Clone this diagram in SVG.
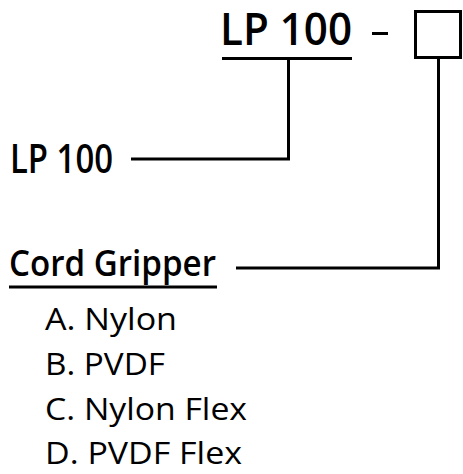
<svg xmlns="http://www.w3.org/2000/svg" width="463" height="474" viewBox="0 0 463 474">
<style>
.t{font-family:"Open Sans","Noto Sans",sans-serif;fill:#000}
.b{font-weight:600}
.ln{stroke:#000;stroke-width:3;fill:none}
</style>
<rect width="463" height="474" fill="#fff"/>
<g id="title">
<text class="t b" x="220" y="45" font-size="45" textLength="132" lengthAdjust="spacingAndGlyphs">LP 100</text>
<line class="ln" x1="222" y1="58.5" x2="352" y2="58.5" stroke-width="3.5"/>
<line class="ln" x1="372" y1="33.5" x2="388" y2="33.5" stroke-width="3"/>
<rect class="ln" x="415.5" y="11.5" width="45" height="46"/>
</g>
<g id="lp100">
<text class="t b" x="10" y="173" font-size="39" textLength="103" lengthAdjust="spacingAndGlyphs">LP 100</text>
</g>
<g id="cord-gripper">
<text class="t b" x="9" y="276" font-size="36" textLength="207" lengthAdjust="spacingAndGlyphs">Cord Gripper</text>
<line class="ln" x1="9" y1="287" x2="217" y2="287" stroke-width="3.5"/>
<text class="t" x="45" y="330" font-size="31.5" textLength="132" lengthAdjust="spacingAndGlyphs">A. Nylon</text>
<text class="t" x="45" y="375" font-size="31.5" textLength="120" lengthAdjust="spacingAndGlyphs">B. PVDF</text>
<text class="t" x="45" y="420" font-size="31.5" textLength="202" lengthAdjust="spacingAndGlyphs">C. Nylon Flex</text>
<text class="t" x="45" y="464" font-size="31.5" textLength="197" lengthAdjust="spacingAndGlyphs">D. PVDF Flex</text>
</g>
<g id="connectors">
<polyline class="ln" points="288.5,60 288.5,159 131,159"/>
<polyline class="ln" points="438.5,58 438.5,268 236,268"/>
</g>
</svg>
